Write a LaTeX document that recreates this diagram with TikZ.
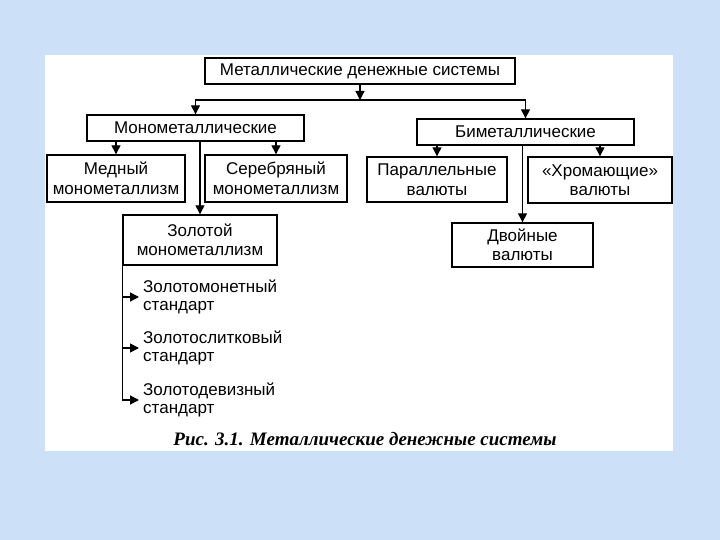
\documentclass[tikz,border=0pt]{standalone}
\usepackage{fontspec}
\setmainfont{Liberation Sans}
\newfontfamily\capfont{Liberation Serif}
\usetikzlibrary{arrows.meta}
\definecolor{bgblue}{RGB}{204,224,247}
\begin{document}
\begin{tikzpicture}[x=1pt,y=-1pt,
  box/.style={draw=black, line width=1.4pt, inner sep=0pt, align=center,
    font=\fontsize{17}{19.5}\selectfont},
  arr/.style={line width=1.3pt, -{Triangle[length=9pt,width=9pt]}},
  lst/.style={anchor=west, align=left, inner sep=0pt, font=\fontsize{17}{18.5}\selectfont}]
\useasboundingbox (0,0) rectangle (720,540);
\fill[bgblue] (0,0) rectangle (720,540);
\fill[white] (45,55) rectangle (673,451);

\node[box, minimum width=310pt, minimum height=26pt] (top) at (360,71) {Металлические денежные системы};
\node[box, minimum width=217pt, minimum height=26pt] (mono) at (195.5,128) {Монометаллические};
\node[box, minimum width=217pt, minimum height=26pt] (bi) at (525.5,132) {Биметаллические};

\node[box, minimum width=138pt, minimum height=47pt] (med) at (116,178.5) {Медный\\монометаллизм};
\node[box, minimum width=142pt, minimum height=47pt] (ser) at (276,178.5) {Серебряный\\монометаллизм};
\node[box, minimum width=140pt, minimum height=45pt] (par) at (437,179.5) {Параллельные\\валюты};
\node[box, minimum width=144pt, minimum height=46pt] (hrom) at (600,180) {«Хромающие»\\валюты};

\node[box, minimum width=154pt, minimum height=50pt] (gold) at (200,240) {Золотой\\монометаллизм};
\node[box, minimum width=141pt, minimum height=44pt] (dvo) at (522.5,245) {Двойные\\валюты};

\node[lst] (t1) at (143,297) {Золотомонетный\\стандарт};
\node[lst] (t2) at (143,348) {Золотослитковый\\стандарт};
\node[lst] (t3) at (143,400) {Золотодевизный\\стандарт};

\node[font=\capfont\bfseries\itshape\fontsize{19}{22}\selectfont, inner sep=0pt] (cap) at (365,439) {Рис. 3.1. Металлические денежные системы};

\coordinate (split) at (360,100);
\draw[arr] (top.south) -- (split);
\draw[arr] (split) -| (mono.north);
\draw[arr] (split) -| (bi.north);

\draw[arr] (mono.south -| med.north) -- (med.north);
\draw[arr] (mono.south -| ser.north) -- (ser.north);
\draw[arr] (mono.south -| gold.north) -- (gold.north);

\draw[arr] (bi.south -| par.north) -- (par.north);
\draw[arr] (bi.south -| hrom.north) -- (hrom.north);
\draw[arr] (bi.south -| dvo.north) -- (dvo.north);

\draw[arr, shorten >=4pt] (gold.south west) |- (t1.west);
\draw[arr, shorten >=4pt] (gold.south west) |- (t2.west);
\draw[arr, shorten >=4pt] (gold.south west) |- (t3.west);
\end{tikzpicture}
\end{document}
